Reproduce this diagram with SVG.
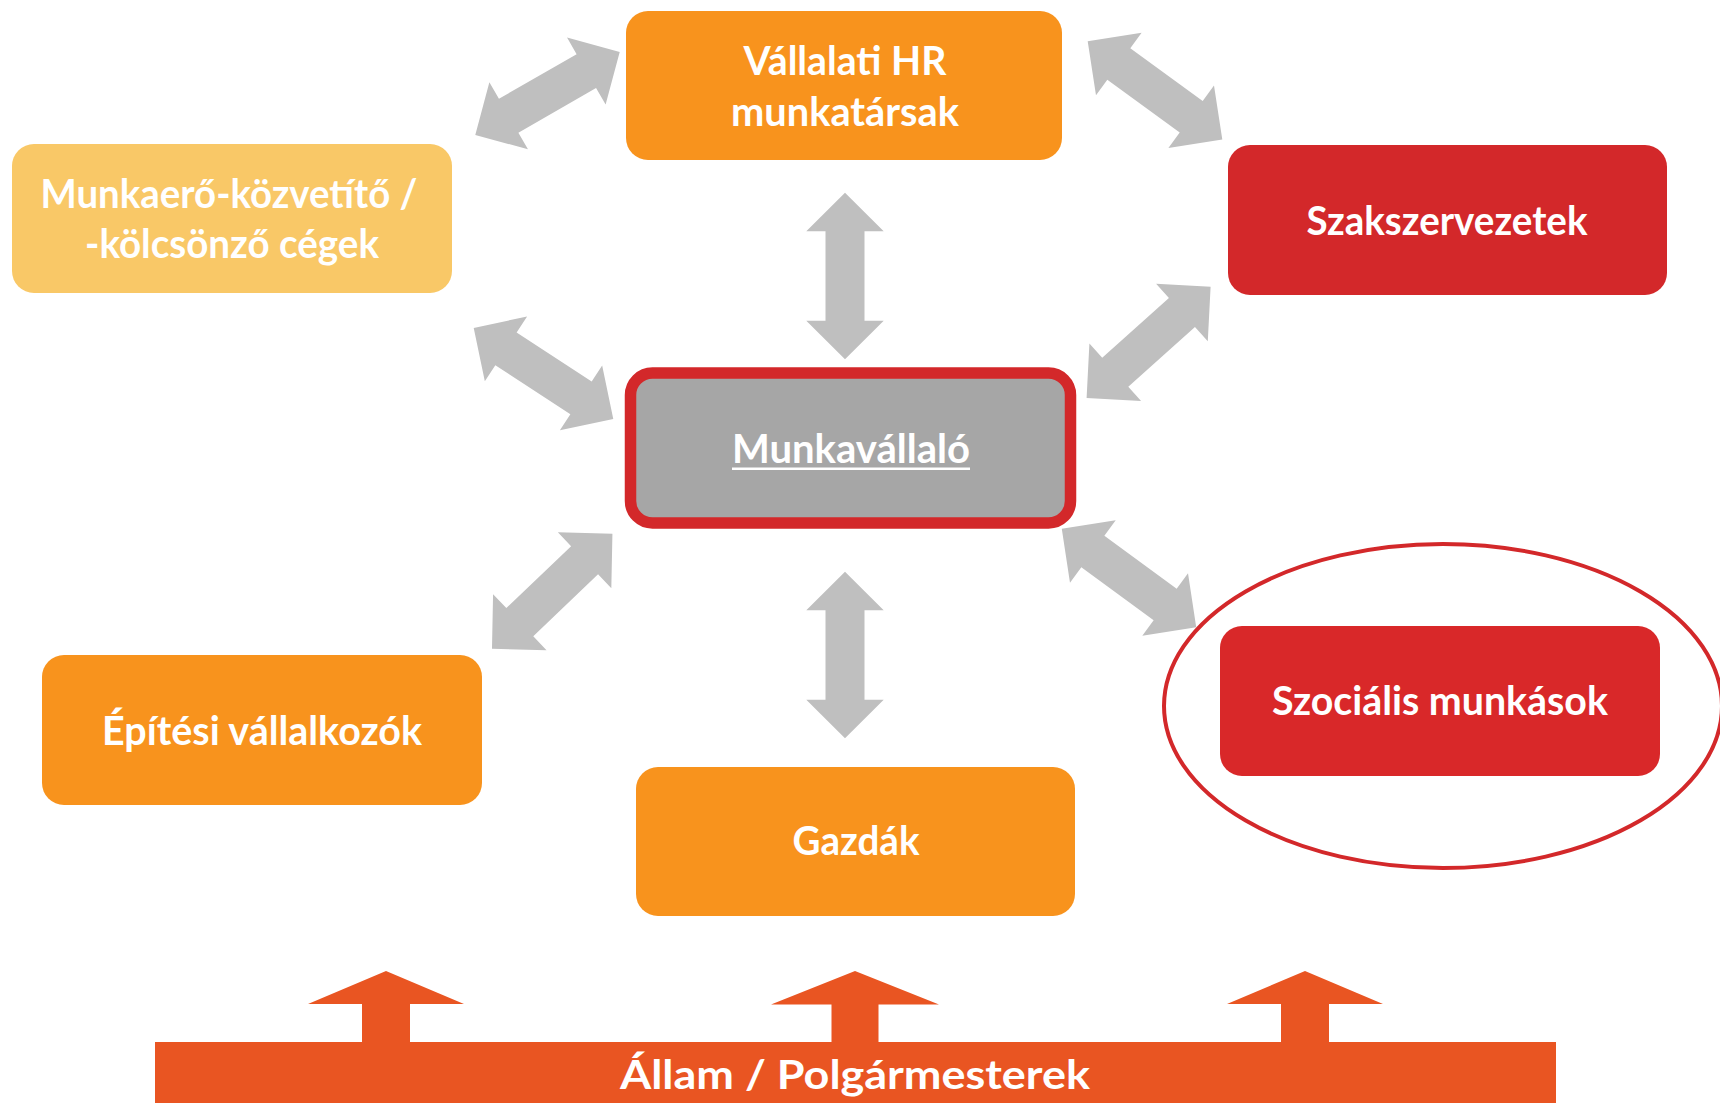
<svg xmlns="http://www.w3.org/2000/svg" xmlns:xlink="http://www.w3.org/1999/xlink" width="1720" height="1103" viewBox="0 0 1720 1103">
  <style>
    .lbl { font-family: Lato, "Open Sans", "Liberation Sans", sans-serif; font-weight: 700; font-size: 40px; fill: #FFFFFF; text-anchor: middle; }
    .orange { fill: #F8931D; }
    .light { fill: #F9C867; }
    .red { fill: #D3282A; }
    .conn { fill: #BFBFBF; }
    .up { fill: #E95522; }
  </style>
  <defs>
    <path id="dbl" d="M -83.3,0 L -44.8,-38.7 L -44.8,-19.5 L 44.8,-19.5 L 44.8,-38.7 L 83.3,0 L 44.8,38.7 L 44.8,19.5 L -44.8,19.5 L -44.8,38.7 Z"/>
    <path id="uparrow" d="M 0,971 L 78,1004 L 24,1004 L 24,1043 L -24,1043 L -24,1004 L -78,1004 Z"/>
    <path id="uparrowWide" d="M 0,971 L 84,1004.5 L 23.5,1004.5 L 23.5,1043 L -23.5,1043 L -23.5,1004.5 L -84,1004.5 Z"/>
  </defs>

  <g id="connectors" class="conn">
    <use xlink:href="#dbl" transform="translate(845,276) rotate(90)"/>
    <use xlink:href="#dbl" transform="translate(845,655) rotate(90)"/>
    <use xlink:href="#dbl" transform="translate(547.5,93.4) rotate(-29.9)"/>
    <use xlink:href="#dbl" transform="translate(1155,90.4) rotate(36.1)"/>
    <use xlink:href="#dbl" transform="translate(543.5,373.4) rotate(33.1)"/>
    <use xlink:href="#dbl" transform="translate(1148.6,342.4) rotate(-41.9)"/>
    <use xlink:href="#dbl" transform="translate(552.2,591.2) rotate(-43.7)"/>
    <use xlink:href="#dbl" transform="translate(1129,578) rotate(36.2)"/>
  </g>

  <g id="node-hr">
    <rect class="orange" x="626" y="11" width="436" height="149" rx="22"/>
    <text class="lbl" x="845" y="75" textLength="203" lengthAdjust="spacingAndGlyphs">Vállalati HR</text>
    <text class="lbl" x="845" y="126" textLength="228" lengthAdjust="spacingAndGlyphs">munkatársak</text>
  </g>

  <g id="node-munkaero">
    <rect class="light" x="12" y="144" width="440" height="149" rx="22"/>
    <text class="lbl" x="229" y="208" textLength="377" lengthAdjust="spacingAndGlyphs">Munkaerő-közvetítő /</text>
    <text class="lbl" x="232" y="258" textLength="294" lengthAdjust="spacingAndGlyphs">-kölcsönző cégek</text>
  </g>

  <g id="node-szakszervezetek">
    <rect class="red" x="1228" y="145" width="439" height="150" rx="22"/>
    <text class="lbl" x="1447" y="235" textLength="281" lengthAdjust="spacingAndGlyphs">Szakszervezetek</text>
  </g>

  <g id="node-munkavallalo">
    <rect x="630.5" y="373" width="440" height="150" rx="22" fill="#A6A6A6" stroke="#D3282A" stroke-width="11.5"/>
    <text class="lbl" x="851" y="463" textLength="238" lengthAdjust="spacingAndGlyphs">Munkavállaló</text>
    <rect x="732" y="467.5" width="238" height="2.5" fill="#FFFFFF"/>
  </g>

  <g id="node-epitesi">
    <rect class="orange" x="42" y="655" width="440" height="150" rx="22"/>
    <text class="lbl" x="262" y="745" textLength="320" lengthAdjust="spacingAndGlyphs">Építési vállalkozók</text>
  </g>

  <g id="node-gazdak">
    <rect class="orange" x="636" y="767" width="439" height="149" rx="22"/>
    <text class="lbl" x="856" y="855" textLength="127" lengthAdjust="spacingAndGlyphs">Gazdák</text>
  </g>

  <g id="node-szocialis">
    <rect fill="#D92829" x="1220" y="626" width="440" height="150" rx="22"/>
    <text class="lbl" x="1440" y="715" textLength="336" lengthAdjust="spacingAndGlyphs">Szociális munkások</text>
    <ellipse cx="1443" cy="706" rx="279" ry="162" fill="none" stroke="#D3282A" stroke-width="4"/>
  </g>

  <g id="node-allam">
    <use xlink:href="#uparrow" class="up" transform="translate(386,0)"/>
    <use xlink:href="#uparrowWide" class="up" transform="translate(855,0)"/>
    <use xlink:href="#uparrow" class="up" transform="translate(1305,0)"/>
    <rect class="up" x="155" y="1042" width="1401" height="61"/>
    <text class="lbl" x="855" y="1089" textLength="470" lengthAdjust="spacingAndGlyphs">Állam / Polgármesterek</text>
  </g>
</svg>
